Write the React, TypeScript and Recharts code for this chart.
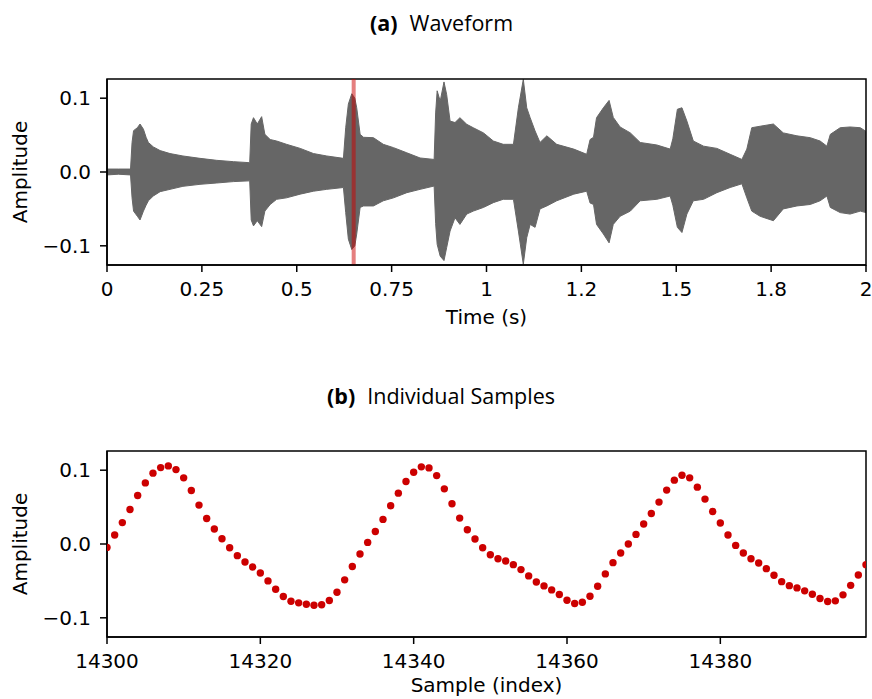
import { ComposedChart, ScatterChart, Area, Scatter, XAxis, YAxis, ReferenceLine, ReferenceArea } from 'recharts';

// Waveform envelope: time (s), upper and lower amplitude
const waveTimes = [
  0.0, 0.03, 0.062, 0.066, 0.07, 0.08, 0.087, 0.096, 0.103, 0.109, 0.122, 0.14, 0.166, 0.2, 0.245, 0.289, 0.333, 0.376,
  0.38, 0.386, 0.396, 0.4075, 0.416, 0.43, 0.447, 0.473, 0.509, 0.544, 0.579, 0.623,
  0.629, 0.636, 0.645, 0.653, 0.658, 0.667, 0.676, 0.702, 0.728, 0.755, 0.79, 0.825, 0.862,
  0.866, 0.87, 0.878, 0.888, 0.895, 0.904, 0.917, 0.93, 0.948, 0.965, 0.992, 1.018, 1.044, 1.071,
  1.084, 1.097, 1.106, 1.115, 1.128, 1.141, 1.159, 1.185, 1.23, 1.264,
  1.273, 1.282, 1.29, 1.308, 1.323, 1.334, 1.352, 1.379, 1.405, 1.449, 1.484,
  1.491, 1.503, 1.515, 1.528, 1.545, 1.572, 1.607, 1.642, 1.673,
  1.686, 1.699, 1.721, 1.756, 1.782, 1.818, 1.853, 1.879, 1.897, 1.906, 1.932, 1.958, 1.985, 2.0,
];
const waveUpper = [
  0.004, 0.004, 0.004, 0.04, 0.056, 0.06, 0.065, 0.058, 0.047, 0.04, 0.034, 0.029, 0.025, 0.0217, 0.0185, 0.0158, 0.014, 0.0126,
  0.065, 0.0736, 0.065, 0.075, 0.051, 0.044, 0.042, 0.0375, 0.032, 0.025, 0.0217, 0.0185,
  0.06, 0.092, 0.106, 0.1, 0.087, 0.051, 0.047, 0.0465, 0.0375, 0.033, 0.026, 0.019, 0.017,
  0.08, 0.11, 0.096, 0.122, 0.105, 0.069, 0.067, 0.0736, 0.0646, 0.06, 0.053, 0.042, 0.0375, 0.0375,
  0.087, 0.1256, 0.087, 0.0736, 0.0556, 0.04, 0.049, 0.0375, 0.031, 0.024,
  0.044, 0.047, 0.0736, 0.087, 0.097, 0.074, 0.061, 0.053, 0.04, 0.0366, 0.031,
  0.045, 0.085, 0.087, 0.069, 0.042, 0.035, 0.032, 0.024, 0.017,
  0.031, 0.06, 0.062, 0.065, 0.053, 0.049, 0.0465, 0.042, 0.035, 0.051, 0.06, 0.061, 0.06, 0.055,
];
const waveLower = [
  -0.004, -0.003, -0.004, -0.035, -0.053, -0.06, -0.065, -0.053, -0.045, -0.039, -0.0325, -0.0266, -0.0235, -0.0194, -0.0167, -0.0149, -0.013, -0.012,
  -0.065, -0.073, -0.066, -0.074, -0.053, -0.044, -0.037, -0.035, -0.03, -0.026, -0.0235, -0.021,
  -0.055, -0.091, -0.105, -0.1, -0.084, -0.048, -0.046, -0.046, -0.039, -0.035, -0.028, -0.0235, -0.019,
  -0.07, -0.098, -0.114, -0.12, -0.1025, -0.08, -0.062, -0.071, -0.057, -0.053, -0.048, -0.0415, -0.037, -0.037,
  -0.08, -0.125, -0.089, -0.071, -0.075, -0.05, -0.046, -0.039, -0.03, -0.026,
  -0.042, -0.044, -0.071, -0.084, -0.096, -0.071, -0.06, -0.053, -0.039, -0.037, -0.0325,
  -0.045, -0.075, -0.082, -0.057, -0.039, -0.037, -0.028, -0.021, -0.016,
  -0.035, -0.053, -0.06, -0.066, -0.05, -0.046, -0.044, -0.039, -0.0325, -0.048, -0.055, -0.057, -0.053, -0.055,
];

// Selected excerpt start (s), shown in panel (b)
const excerptTime = 0.65;

const timeTicks = [0, 0.25, 0.5, 0.75, 1, 1.25, 1.5, 1.75, 2];
const timeTickLabels = ['0', '0.25', '0.5', '0.75', '1', '1.2', '1.5', '1.8', '2'];
const timeDomain = [0, 2];

// Individual samples starting at index 14300
const sampleStart = 14300;
const sampleValues = [
  -0.0046, 0.0122, 0.029, 0.0468, 0.0657, 0.0828, 0.096, 0.1035, 0.1058, 0.1008,
  0.0896, 0.0724, 0.0527, 0.0346, 0.0203, 0.0072, -0.005, -0.0158, -0.0243, -0.0311,
  -0.0392, -0.05, -0.0613, -0.0712, -0.0775, -0.0797, -0.0816, -0.083, -0.0824, -0.0766,
  -0.0654, -0.0486, -0.0305, -0.0135, 0.0022, 0.017, 0.0333, 0.0518, 0.0689, 0.0846,
  0.0973, 0.1045, 0.1031, 0.0927, 0.0747, 0.0545, 0.0351, 0.0193, 0.0068, -0.005,
  -0.0145, -0.0199, -0.023, -0.028, -0.0347, -0.0432, -0.0514, -0.0568, -0.0622, -0.0685,
  -0.0762, -0.0807, -0.0789, -0.0708, -0.0573, -0.0405, -0.0253, -0.0122, 0.0, 0.013,
  0.027, 0.0414, 0.0568, 0.073, 0.0865, 0.0932, 0.0896, 0.077, 0.0608, 0.044,
  0.0284, 0.0122, -0.0019, -0.0122, -0.0199, -0.0257, -0.0334, -0.0424, -0.051, -0.0564,
  -0.0595, -0.0635, -0.0681, -0.0739, -0.078, -0.077, -0.0689, -0.056, -0.0419, -0.028,
];
const sampleTicks = [14300, 14320, 14340, 14360, 14380];
const sampleDomain = [sampleStart, sampleStart + sampleValues.length - 1];

const ampTicks = [-0.1, 0, 0.1];
const ampDomain = [-0.126, 0.126];

const waveData = waveTimes.map((t, i) => ({ t, band: [waveLower[i], waveUpper[i]] }));
const sampleData = sampleValues.map((v, i) => ({ n: sampleStart + i, v }));

const W = 872;
const H = 340;
const margin = { top: 79, right: 6, left: 0, bottom: 13 };
const tickFont = { fontFamily: 'DejaVu Sans', fontSize: 20, fill: '#000' };
const axisStroke = { stroke: '#000', strokeWidth: 1.5 };

const fmtAmp = (v: number) => (v < 0 ? '\u2212' : '') + Math.abs(v).toFixed(1);

const ampLabel = {
  value: 'Amplitude',
  angle: -90,
  position: 'insideLeft' as const,
  offset: 20,
  style: { textAnchor: 'middle', fontFamily: 'DejaVu Sans', fontSize: 20, fill: '#000' },
};

function Title({ tag, text, left, top }: { tag: string; text: string; left: number; top: number }) {
  return (
    <div
      style={{
        position: 'absolute',
        left,
        top,
        whiteSpace: 'nowrap',
        fontFamily: 'Open Sans',
        fontSize: 21.5,
        lineHeight: '24px',
        color: '#000',
      }}
    >
      <b>{tag}</b>
      <span style={{ marginLeft: 12 }}>{text}</span>
    </div>
  );
}

export default function App() {
  return (
    <div style={{ position: 'absolute', left: 0, top: 0, width: W, height: 699, overflow: 'hidden', background: '#fff' }}>
      <Title tag="(a)" text="Waveform" left={370} top={11} />
      <div style={{ position: 'absolute', left: 0, top: 0 }}>
        <ComposedChart width={W} height={H} data={waveData} margin={margin}>
          <XAxis
            dataKey="t"
            type="number"
            domain={timeDomain}
            ticks={timeTicks}
            tickFormatter={(v: number) => timeTickLabels[timeTicks.indexOf(v)] ?? String(v)}
            tick={tickFont}
            tickSize={7}
            tickMargin={10}
            axisLine={axisStroke}
            tickLine={axisStroke}
            height={62}
            label={{ value: 'Time (s)', position: 'insideBottom', offset: 3, style: tickFont }}
            allowDataOverflow
          />
          <YAxis
            type="number"
            domain={ampDomain}
            ticks={ampTicks}
            tickFormatter={fmtAmp}
            tick={tickFont}
            tickSize={7}
            tickMargin={9}
            axisLine={axisStroke}
            tickLine={axisStroke}
            width={107}
            label={ampLabel}
            allowDataOverflow
          />
          <Area
            type="linear"
            dataKey="band"
            stroke="#666666"
            strokeWidth={1}
            fill="#666666"
            fillOpacity={1}
            isAnimationActive={false}
            dot={false}
            activeDot={false}
          />
          <ReferenceLine x={excerptTime} stroke="#cc0000" strokeOpacity={0.5} strokeWidth={4} />
          {/* plot frame */}
          <ReferenceArea
            x1={timeDomain[0]}
            x2={timeDomain[1]}
            y1={ampDomain[0]}
            y2={ampDomain[1]}
            fill="none"
            stroke="#000"
            strokeWidth={1.5}
          />
        </ComposedChart>
      </div>

      <Title tag="(b)" text="Individual Samples" left={327} top={384} />
      <div style={{ position: 'absolute', left: 0, top: 372 }}>
        <ScatterChart width={W} height={H} margin={margin}>
          <XAxis
            dataKey="n"
            type="number"
            domain={sampleDomain}
            ticks={sampleTicks}
            tick={tickFont}
            tickSize={7}
            tickMargin={10}
            axisLine={axisStroke}
            tickLine={axisStroke}
            height={62}
            label={{ value: 'Sample (index)', position: 'insideBottom', offset: 7, style: tickFont }}
            allowDataOverflow
          />
          <YAxis
            dataKey="v"
            type="number"
            domain={ampDomain}
            ticks={ampTicks}
            tickFormatter={fmtAmp}
            tick={tickFont}
            tickSize={7}
            tickMargin={9}
            axisLine={axisStroke}
            tickLine={axisStroke}
            width={107}
            label={ampLabel}
            allowDataOverflow
          />
          <ReferenceArea
            x1={sampleDomain[0]}
            x2={sampleDomain[1]}
            y1={ampDomain[0]}
            y2={ampDomain[1]}
            fill="none"
            stroke="#000"
            strokeWidth={1.5}
          />
          <Scatter
            data={sampleData}
            fill="#cc0000"
            isAnimationActive={false}
            shape={(p: any) => <circle cx={p.cx} cy={p.cy} r={3.7} fill="#cc0000" />}
          />
        </ScatterChart>
      </div>
    </div>
  );
}
